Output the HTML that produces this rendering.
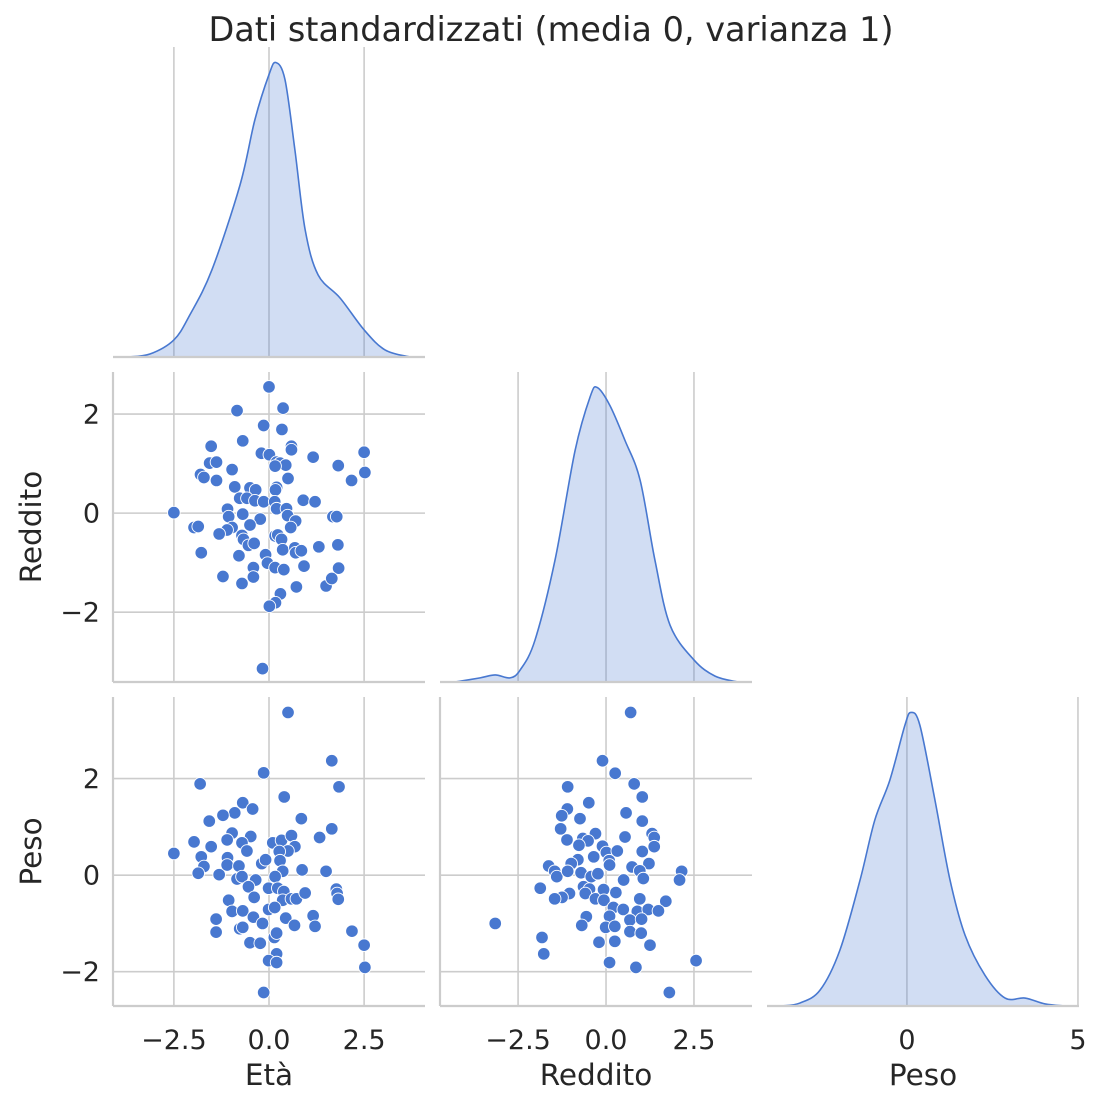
<!DOCTYPE html>
<html><head><meta charset="utf-8">
<style>
html,body{margin:0;padding:0;background:#fff;}
svg{display:block;font-family:"DejaVu Sans","Liberation Sans",sans-serif;}
</style></head>
<body>
<svg id="chart" width="1102" height="1105" viewBox="0 0 1102 1105" xmlns="http://www.w3.org/2000/svg">
<text x="551" y="41" text-anchor="middle" font-size="33.5" fill="#262626">Dati standardizzati (media 0, varianza 1)</text>
<g id="layer"></g>
</svg>
<script>
// ---- data ----
const etaTicks = [-2.5, 0.0, 2.5];
const etaTickLabels = ["\u22122.5", "0.0", "2.5"];
const redTicks = [-2.5, 0.0, 2.5];
const redTickLabels = ["\u22122.5", "0.0", "2.5"];
const pesoTicks = [0, 5];
const pesoTickLabels = ["0", "5"];
const redYTicks = [2, 0, -2];
const redYTickLabels = ["2", "0", "\u22122"];
const pesoYTicks = [2, 0, -2];
const pesoYTickLabels = ["2", "0", "\u22122"];

// scatter Età vs Reddito
const s1Eta = [0.0,0.37,-0.84,-0.14,0.34,-0.69,0.59,0.59,-1.52,-0.2,0.01,1.16,2.5,-1.56,-1.38,0.2,0.29,0.44,0.16,1.82,2.52,-0.97,-1.8,-1.71,-1.38,0.5,2.17,-0.9,-0.5,-0.35,0.2,0.17,-0.77,-0.58,-0.37,-0.14,0.15,0.2,0.9,1.21,-1.09,-1.06,-0.69,0.46,0.49,-2.5,-0.23,0.7,1.68,1.78,-1.97,-1.86,-0.5,-0.97,-1.1,-1.31,0.57,-0.71,-0.67,-0.54,-0.39,0.16,0.23,0.33,0.36,0.68,0.7,0.85,1.31,1.81,-1.78,-0.79,-0.09,-0.04,0.16,0.39,-0.41,-0.41,0.92,1.83,-1.21,-0.71,0.72,1.5,1.65,0.3,0.17,0.01,-0.17];
const s1Red = [2.55,2.12,2.07,1.77,1.69,1.46,1.35,1.28,1.35,1.21,1.18,1.13,1.23,1.01,1.03,1.03,1.01,0.97,0.95,0.96,0.82,0.88,0.78,0.72,0.66,0.7,0.66,0.53,0.51,0.47,0.52,0.47,0.3,0.3,0.25,0.23,0.23,0.09,0.26,0.23,0.08,-0.07,-0.02,0.09,-0.05,0.01,-0.12,-0.16,-0.07,-0.07,-0.29,-0.27,-0.24,-0.29,-0.34,-0.42,-0.29,-0.45,-0.53,-0.65,-0.61,-0.46,-0.44,-0.53,-0.74,-0.7,-0.8,-0.76,-0.68,-0.64,-0.8,-0.86,-0.84,-1.01,-1.1,-1.14,-1.1,-1.29,-1.07,-1.11,-1.28,-1.42,-1.49,-1.47,-1.32,-1.63,-1.81,-1.88,-3.14];

// scatter Età vs Peso
const s2Eta = [0.5,1.65,-0.14,-1.81,1.84,0.4,-0.69,-0.43,-0.9,-1.21,-1.57,0.85,1.65,1.33,-0.97,-0.48,-1.1,-0.71,-1.97,-1.52,0.1,0.33,0.59,0.68,0.5,0.27,-0.58,-2.5,-1.78,-1.09,-1.71,-1.86,-1.31,-1.1,-0.79,-0.19,-0.09,0.29,0.36,0.16,0.87,1.5,-0.84,-0.71,-0.35,-0.54,-0.01,0.23,0.39,-0.39,-1.06,0.36,0.59,0.72,0.95,1.77,1.79,1.82,-0.97,-0.69,-0.01,0.15,-1.39,-0.41,-0.17,0.44,0.67,1.16,1.21,-1.39,-0.77,-0.69,0.14,0.2,-0.5,-0.23,2.18,2.5,0.2,-0.01,0.2,2.52,-0.14];
const s2Peso = [3.37,2.37,2.12,1.89,1.83,1.62,1.5,1.37,1.29,1.24,1.12,1.17,0.96,0.78,0.87,0.8,0.73,0.67,0.69,0.59,0.67,0.72,0.82,0.59,0.5,0.49,0.5,0.45,0.38,0.36,0.18,0.04,0.01,0.21,0.19,0.24,0.32,0.3,0.08,-0.03,0.11,0.08,-0.08,-0.03,-0.1,-0.24,-0.27,-0.27,-0.34,-0.46,-0.52,-0.52,-0.49,-0.49,-0.37,-0.29,-0.38,-0.5,-0.75,-0.74,-0.71,-0.67,-0.91,-0.87,-1.0,-0.89,-1.04,-0.84,-1.06,-1.18,-1.11,-1.08,-1.29,-1.2,-1.4,-1.41,-1.16,-1.45,-1.63,-1.77,-1.81,-1.91,-2.43];

// scatter Reddito vs Peso
const s3Red = [0.7,-0.1,0.26,0.8,-1.09,1.03,-0.49,-1.1,-1.26,-0.74,0.57,1.03,-1.29,-1.11,0.54,1.31,1.37,1.37,-0.66,-0.3,-0.51,-0.77,-0.1,0.01,0.32,1.03,-0.35,-0.8,-0.99,0.09,0.1,1.22,0.74,-1.63,-1.46,-1.4,-1.09,-0.71,-0.42,-0.23,0.96,1.06,2.15,2.09,0.5,-1.87,-0.64,-0.47,-0.59,-0.3,-0.07,-0.06,0.28,-1.04,-1.25,-1.46,0.96,1.7,0.21,0.49,0.89,1.2,1.49,0.1,0.68,1.01,-0.56,-0.69,-0.01,0.25,0.68,1.0,-3.15,-1.82,-0.2,0.25,1.25,-1.77,0.1,0.85,2.56,1.8];
const s3Peso = [3.37,2.37,2.11,1.89,1.83,1.62,1.5,1.37,1.23,1.17,1.29,1.12,0.96,0.73,0.79,0.86,0.78,0.59,0.76,0.86,0.71,0.62,0.6,0.47,0.5,0.49,0.38,0.32,0.24,0.3,0.21,0.24,0.17,0.19,0.08,-0.03,0.08,0.05,-0.03,0.03,0.09,-0.07,0.08,-0.1,-0.1,-0.27,-0.24,-0.29,-0.38,-0.49,-0.3,-0.52,-0.36,-0.38,-0.46,-0.49,-0.49,-0.54,-0.67,-0.71,-0.75,-0.71,-0.74,-0.85,-0.93,-0.91,-0.86,-1.04,-1.08,-1.06,-1.17,-1.2,-1.0,-1.29,-1.39,-1.37,-1.45,-1.63,-1.81,-1.91,-1.77,-2.43];

// KDE curves (relative density)
const kdeEtaX = [-3.7,-3.13,-2.5,-2.08,-1.5,-0.76,-0.37,0,0.18,0.42,0.68,0.95,1.29,1.87,2.5,3.05,3.7];
const kdeEtaD = [0,0.01,0.058,0.143,0.296,0.585,0.806,0.959,1.0,0.942,0.704,0.432,0.279,0.2,0.092,0.024,0];
const kdeRedX = [-4.3,-3.58,-3.15,-2.73,-2.44,-2.02,-1.45,-0.88,-0.45,-0.25,0.11,0.54,0.97,1.39,1.82,2.5,3.1,3.75];
const kdeRedD = [0,0.014,0.024,0.014,0.041,0.142,0.414,0.786,0.969,1.0,0.939,0.82,0.685,0.414,0.193,0.075,0.02,0];
const kdePesoX = [-3.65,-3.13,-2.54,-1.96,-1.37,-0.94,-0.5,-0.06,0.12,0.38,0.82,1.26,1.7,2.28,2.87,3.45,4.04,4.62];
const kdePesoD = [0,0.01,0.054,0.19,0.429,0.633,0.769,0.956,1.0,0.956,0.701,0.429,0.241,0.105,0.027,0.027,0.007,0];

// ---- layout ----
const NS = "http://www.w3.org/2000/svg";
const layer = document.getElementById('layer');
const cols = [{l:113,r:425,min:-4.1,max:4.1},{l:440,r:752,min:-4.72,max:4.15},{l:767,r:1079,min:-4.09,max:5.03}];
const rows = [{t:47,b:357},{t:372,b:682,min:-3.41,max:2.85},{t:697,b:1006,min:-2.71,max:3.69}];
const BLUE = "#4878d0", GRID = "#cccccc", TXT = "#262626";
function xs(c,v){const C=cols[c];return C.l+(v-C.min)/(C.max-C.min)*(C.r-C.l);}
function ys(r,v){const R=rows[r];return R.b-(v-R.min)/(R.max-R.min)*(R.b-R.t);}
function mk(tag,attrs){const e=document.createElementNS(NS,tag);for(const k in attrs)e.setAttribute(k,attrs[k]);layer.appendChild(e);return e;}

function vgrid(c,r,ticks){
  for(const t of ticks){const x=xs(c,t);
    const e=mk('line',{x1:x,x2:x,y1:rows[r].t,y2:rows[r].b,stroke:GRID,'stroke-width':1.6});
    
    }
}
function hgrid(c,r,ticks){
  for(const t of ticks){const y=ys(r,t);
    const e=mk('line',{x1:cols[c].l,x2:cols[c].r,y1:y,y2:y,stroke:GRID,'stroke-width':1.6});
    
    }
}
function spines(c,r,left){
  const b=mk('line',{x1:cols[c].l,x2:cols[c].r,y1:rows[r].b,y2:rows[r].b,stroke:GRID,'stroke-width':2.2});
  
  
  if(left){const l=mk('line',{x1:cols[c].l,x2:cols[c].l,y1:rows[r].t,y2:rows[r].b,stroke:GRID,'stroke-width':2.2});
    
    }
}
function scatter(c,r,xsArr,ysArr){
  for(let i=0;i<xsArr.length;i++){
    const e=mk('circle',{cx:xs(c,xsArr[i]),cy:ys(r,ysArr[i]),r:6.3,fill:BLUE,stroke:'#fff','stroke-width':0.9});
    
    
  }
}
function kde(c,r,xArr,dArr){
  const R=rows[r];const h=(R.b-R.t)*0.95;
  const pts=xArr.map((x,i)=>[xs(c,x),R.b-dArr[i]*h]);
  let d="M"+pts[0][0]+","+pts[0][1];
  for(let i=0;i<pts.length-1;i++){
    const p0=pts[Math.max(0,i-1)],p1=pts[i],p2=pts[i+1],p3=pts[Math.min(pts.length-1,i+2)];
    const c1=[p1[0]+(p2[0]-p0[0])/6,p1[1]+(p2[1]-p0[1])/6];
    const c2=[p2[0]-(p3[0]-p1[0])/6,p2[1]-(p3[1]-p1[1])/6];
    d+=" C"+c1[0]+","+c1[1]+" "+c2[0]+","+c2[1]+" "+p2[0]+","+p2[1];
  }
  const f=mk('path',{d:d+" L"+pts[pts.length-1][0]+","+R.b+" L"+pts[0][0]+","+R.b+" Z",fill:BLUE,'fill-opacity':0.25,stroke:'none'});
  
  
  const l=mk('path',{d:d,fill:'none',stroke:BLUE,'stroke-width':1.6});
  
  
}
function xlabels(c,ticks,labels,title){
  ticks.forEach((t,i)=>{const e=mk('text',{x:xs(c,t),y:1049,'text-anchor':'middle','font-size':27,fill:TXT});e.textContent=labels[i];
    
    });
  const e=mk('text',{x:(cols[c].l+cols[c].r)/2,y:1085,'text-anchor':'middle','font-size':29.5,fill:TXT});e.textContent=title;
  
  
}
function ylabels(r,ticks,labels,title){
  ticks.forEach((t,i)=>{const e=mk('text',{x:100,y:ys(r,t)+9.5,'text-anchor':'end','font-size':27,fill:TXT});e.textContent=labels[i];
    
    });
  const cy=(rows[r].t+rows[r].b)/2;
  const e=mk('text',{x:41,y:cy,'text-anchor':'middle','font-size':29.5,fill:TXT,transform:'rotate(-90 41 '+cy+')'});e.textContent=title;
  
  
}

// diag 1
vgrid(0,0,etaTicks); kde(0,0,kdeEtaX,kdeEtaD); spines(0,0,false);
// row 2
vgrid(0,1,etaTicks); hgrid(0,1,redYTicks); spines(0,1,true); scatter(0,1,s1Eta,s1Red);
vgrid(1,1,redTicks); kde(1,1,kdeRedX,kdeRedD); spines(1,1,false);
// row 3
vgrid(0,2,etaTicks); hgrid(0,2,pesoYTicks); spines(0,2,true); scatter(0,2,s2Eta,s2Peso);
vgrid(1,2,redTicks); hgrid(1,2,pesoYTicks); spines(1,2,true); scatter(1,2,s3Red,s3Peso);
vgrid(2,2,pesoTicks); kde(2,2,kdePesoX,kdePesoD); spines(2,2,false);

xlabels(0,etaTicks,etaTickLabels,"Età");
xlabels(1,redTicks,redTickLabels,"Reddito");
xlabels(2,pesoTicks,pesoTickLabels,"Peso");
ylabels(1,redYTicks,redYTickLabels,"Reddito");
ylabels(2,pesoYTicks,pesoYTickLabels,"Peso");
</script>
</body></html>
